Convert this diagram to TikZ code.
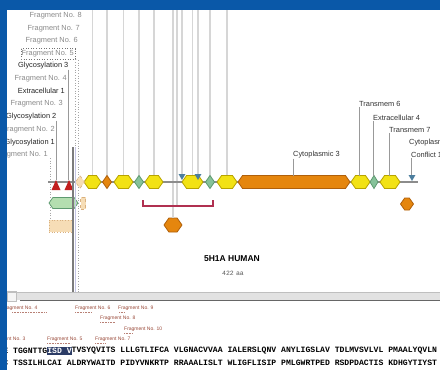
\documentclass[tikz,border=0pt]{standalone}
\usepackage{fontspec}
\setmainfont{Liberation Sans}
\newfontfamily\monof{Liberation Mono}
\usetikzlibrary{shapes.geometric,shapes.symbols}
\definecolor{winblue}{HTML}{0A58A8}
\definecolor{hexyel}{HTML}{F2E214}
\definecolor{hexyelb}{HTML}{B8A400}
\definecolor{orng}{HTML}{E5860E}
\definecolor{orngb}{HTML}{B0600A}
\definecolor{grn}{HTML}{86C29A}
\definecolor{grnb}{HTML}{5E9A70}
\definecolor{lgrn}{HTML}{B4DEB0}
\definecolor{vline}{HTML}{D6D6D6}
\definecolor{trk}{HTML}{8C8C8C}
\definecolor{fraggray}{HTML}{8A8A8A}
\definecolor{brk}{HTML}{B03050}
\definecolor{tri}{HTML}{4C7E9E}
\definecolor{redtri}{HTML}{C21E1E}
\definecolor{navy}{HTML}{2C3C66}
\definecolor{fragred}{HTML}{9A4A3A}
\definecolor{tanf}{HTML}{F6DDB6}
\definecolor{tanb}{HTML}{D8B080}
\definecolor{sepgray}{HTML}{E2E2E2}
\definecolor{divgray}{HTML}{7C7C7C}
\definecolor{lav}{HTML}{C6C6E6}
\tikzset{
  hexy/.style={signal, signal to=east and west, signal pointer angle=110, draw=hexyelb, fill=hexyel, line width=0.8, inner sep=0, outer sep=0, minimum height=13},
  hexo/.style={hexy, draw=orngb, fill=orng},
  diao/.style={diamond, draw=orngb, fill=orng, line width=0.8, inner sep=0, outer sep=0, minimum width=9, minimum height=13},
  diag/.style={diao, draw=grnb, fill=grn},
  btri/.style={regular polygon, regular polygon sides=3, shape border rotate=180, fill=tri, inner sep=0, outer sep=0, minimum size=8},
  lab/.style={font=\fontsize{7.4}{8}\selectfont, inner sep=0, anchor=east},
  fraglab/.style={lab, text=fraggray},
  featlab/.style={lab, text=black!85},
  rlab/.style={lab, anchor=west, text=black!80},
  vl/.style={draw=vline, line width=1.6},
  lead/.style={draw=black!40, line width=0.6},
  dotl/.style={draw=black!35, dotted, line width=0.6},
  bfrag/.style={font=\fontsize{5}{6}\selectfont, text=fragred, inner sep=0, anchor=west},
  bund/.style={draw=fragred!70, line width=0.6, dash pattern=on 1pt off 0.6pt},
  seq/.style={font=\monof\bfseries\fontsize{8.12}{9}\selectfont, inner sep=0, anchor=west}
}
\begin{document}
\begin{tikzpicture}[x=1pt,y=-1pt]
\useasboundingbox (0,0) rectangle (440,370);
\clip (0,0) rectangle (440,370);
\fill[white] (0,0) rectangle (440,370);
\coordinate (topline) at (0,10);

% ---- features on the track (positions)
\coordinate (trL) at (48,182);
\coordinate (trR) at (418,182);
\coordinate (p1) at (92.5,182);
\coordinate (p2) at (107,182);
\coordinate (p3) at (123.5,182);
\coordinate (p4) at (139,182);
\coordinate (p5) at (154,182);
\coordinate (p6) at (192.5,182);
\coordinate (p7) at (210,182);
\coordinate (p8) at (227,182);
\coordinate (brL) at (143,200);
\coordinate (brR) at (213,200);
\coordinate (brm) at (177,206);
\coordinate (g1) at (56,180);
\coordinate (g2) at (69,180);
\node[hexo, minimum width=18, minimum height=14] (oh1) at (173,225) {};
\node[hexo, minimum width=13, minimum height=12] (oh2) at (407,204) {};

% ---- grey vertical lines from the top
\foreach \p in {p1,p2,p3,p4,p5,p6,p7,p8}{\draw[vl] (\p) -- (\p |- topline);}
\draw[vl] (182,174) coordinate (bt1top) -- (bt1top |- topline);
\draw[vl] (198,174) coordinate (bt2top) -- (bt2top |- topline);
\draw[vl] (oh1.north) -- (oh1.north |- topline);
\draw[vl] (brm) -- (brm |- topline);

% ---- left labels
\node[fraglab] (f8) at (82,16) {Fragment No. 8};
\node[fraglab] (f7) at (80,28.5) {Fragment No. 7};
\node[fraglab] (f6) at (78,41) {Fragment No. 6};
\node[fraglab] (f5) at (74,53.5) {Fragment No. 5};
\draw[black!55, dotted, line width=0.6] (21,48.5) rectangle (75.5,59);
\node[featlab] (gl3) at (68.5,66) {Glycosylation 3};
\node[fraglab] (f4) at (67,78.5) {Fragment No. 4};
\node[featlab] (ex1l) at (65,91) {Extracellular 1};
\node[fraglab] (f3) at (63,103.5) {Fragment No. 3};
\node[featlab] (gl2) at (56.5,117) {Glycosylation 2};
\node[fraglab] (f2) at (55,130) {Fragment No. 2};
\node[featlab] (gl1) at (55,143) {Glycosylation 1};
\node[fraglab] (f1) at (48,154.5) {Fragment No. 1};

% leaders on the left
\draw[lead] (gl3.south east) -- (gl3.south east |- g2);
\draw[lead] (gl2.south east) -- (gl2.south east |- g1);
\draw[dotl] (f5.south east) ++(1.5,5) coordinate (f5d) -- (f5d |- 0,292);
\draw[dotl] (f1.south east) ++(2,0) coordinate (f1d) -- (f1d |- 0,226);
\draw[dotl] (78,60) coordinate (f6d) -- (f6d |- 0,292);

% track line
\draw[trk, line width=2] (trL) -- (trR);
% features over the track
\node[hexy, minimum width=17] (y1) at (p1) {};
\node[diao] (od1) at (p2) {};
\node[hexy, minimum width=19] (y2) at (p3) {};
\node[diag] (gd1) at (p4) {};
\node[hexy, minimum width=18] (y3) at (p5) {};
\node[hexy, minimum width=21] (y4) at (p6) {};
\node[diag] (gd2) at (p7) {};
\node[hexy, minimum width=20] (y5) at (p8) {};
\node[hexo, minimum width=112] (cy3) at (294,182) {};
\node[hexy, minimum width=19] (y6) at (360.5,182) {};
\node[diag, minimum width=8] (gd3) at (374,182) {};
\node[hexy, minimum width=20] (y7) at (390,182) {};
\node[signal, signal to=east and west, signal pointer angle=110, draw=tanb, fill=tanf, dashed, line width=0.6, inner sep=0, minimum width=9, minimum height=12] (ex1) at (80,182) {};

% glycosylation triangles
\fill[redtri] (g1) -- ++(4.5,10) -- ++(-9,0) -- cycle;
\fill[redtri] (g2) -- ++(4.5,10) -- ++(-9,0) -- cycle;
% conflict / variant triangles
\node[btri] (bt1) at (182,176) {};
\node[btri] (bt2) at (198,176) {};
\node[btri] (bt3) at (412,177) {};

% bracket
\draw[brk, line width=1.4] (brL) -- (brL |- brm) -- (brR |- brm) -- (brR);

% left lower features
\node[signal, signal to=east and west, signal pointer angle=110, draw=grnb, fill=lgrn, line width=0.7, inner sep=0, minimum width=29, minimum height=11] (gr) at (63.5,203) {};
\node[draw=tanb, dashed, fill=tanf, line width=0.6, minimum width=5, minimum height=12, inner sep=0] (sq) at (83,203) {};
\node[draw=tanb, dotted, fill=tanf, line width=0.7, minimum width=24, minimum height=12, inner sep=0] (bx) at (61,226) {};

% divider
\coordinate (dvt) at (73,147);
\coordinate (dvb) at (73,292);
\coordinate (dvt2) at (75.5,147);
\coordinate (dvb2) at (75.5,292);
\draw[divgray, line width=2] (dvt) -- (dvb);
\draw[lav, line width=1.5] (dvt2) -- (dvb2);

% right labels
\node[rlab] (tm6l) at (359,104) {Transmem 6};
\node[rlab] (ex4l) at (373,118) {Extracellular 4};
\node[rlab] (tm7l) at (389,130) {Transmem 7};
\node[rlab] (cyl) at (409,143) {Cytoplasmic};
\node[rlab] (cfl) at (411,155) {Conflict 1};
\node[rlab] (c3l) at (293,155) {Cytoplasmic 3};
\draw[lead] (tm6l.south west) -- (tm6l.south west |- y6.north);
\draw[lead] (ex4l.south west) -- (ex4l.south west |- gd3.north);
\draw[lead] (tm7l.south west) -- (tm7l.south west |- y7.north);
\draw[lead] (cfl.south west) -- (cfl.south west |- bt3.north);
\draw[lead] (c3l.south west) -- (c3l.south west |- cy3.north);

% title
\node[font=\bfseries\fontsize{8.5}{10}\selectfont, inner sep=0] (ttl) at (232,259) {5H1A HUMAN};
\node[font=\monof\fontsize{6.5}{8}\selectfont, text=black!65, inner sep=0] (len) at (233,273) {422\,\,aa};

% separator bar
\node[fill=sepgray, minimum width=433, minimum height=8, inner sep=0, anchor=north west] (sep) at (7,292) {};
\node[fill=black!4, draw=black!25, line width=0.4, minimum width=9, minimum height=10, inner sep=0, anchor=north west] (sepbox) at (7,291) {};
\draw[black!25, line width=0.5] (sep.north west) -- (sep.north east);
\coordinate (sl) at (20,300.3);
\draw[black!60, line width=1] (sl) -- (sl -| sep.east);

% bottom fragment labels
\node[bfrag] (b4) at (2,308) {Fragment No. 4};
\node[bfrag] (b6) at (75,308) {Fragment No. 6};
\node[bfrag] (b9) at (118,308) {Fragment No. 9};
\node[bfrag] (b8) at (100,318) {Fragment No. 8};
\node[bfrag] (b10) at (124,329) {Fragment No. 10};
\node[bfrag] (b3) at (-10,339) {Fragment No. 3};
\node[bfrag] (b5) at (47,339) {Fragment No. 5};
\node[bfrag] (b7) at (95,339) {Fragment No. 7};
\draw[bund] (12,312.5) coordinate (u4) -- ++(35,0);
\draw[bund] (75,312.5) coordinate (u6) -- ++(17,0);
\draw[bund] (119,312.5) coordinate (u9) -- ++(6,0);
\draw[bund] (100,322.5) coordinate (u8) -- ++(15,0);
\draw[bund] (124,333) coordinate (u10) -- ++(9,0);
\draw[bund] (47,343) coordinate (u5) -- ++(24,0);
\draw[bund] (95,343) coordinate (u7) -- ++(10,0);

% sequence
\node[seq] (s1a) at (3.26,351) {E TGGNTTG};
\node[seq, text=white, fill=navy, inner ysep=1.5] (hl) at (47.11,351) {ISD V};
\node[seq] (s1b) at (71.47,351) {TVSYQVITS LLLGTLIFCA VLGNACVVAA IALERSLQNV ANYLIGSLAV TDLMVSVLVL PMAALYQVLN};
\node[seq] (s2) at (3.26,363) {C TSSILHLCAI ALDRYWAITD PIDYVNKRTP RRAAALISLT WLIGFLISIP PMLGWRTPED RSDPDACTIS KDHGYTIYST};

% window frame
\fill[winblue] (0,0) rectangle (440,10);
\fill[winblue] (0,0) rectangle (7,370);
\end{tikzpicture}
\end{document}
